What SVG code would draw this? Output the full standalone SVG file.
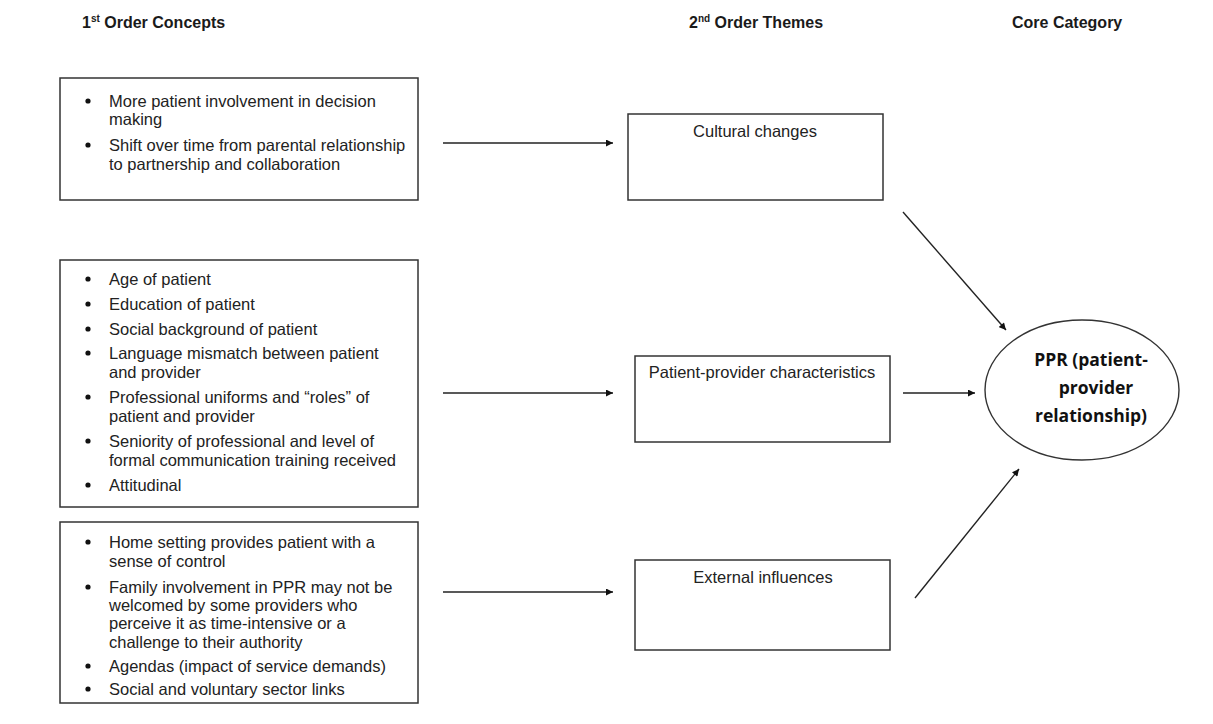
<svg xmlns="http://www.w3.org/2000/svg" width="1213" height="724" viewBox="0 0 1213 724">
<style>
.hdr{font-family:"Liberation Sans",Arial,sans-serif;font-weight:bold;font-size:16px;fill:#1a1a1a}
.sup{font-size:10px}
.txt{font-family:"Liberation Sans",Arial,sans-serif;font-size:16.5px;fill:#222}
.box{fill:#fff;stroke:#333;stroke-width:1.5}
.bul{fill:#111}
.mid{text-anchor:middle}
.core{font-family:"Open Sans","DejaVu Sans",sans-serif;font-weight:bold;font-size:17.5px;fill:#111;text-anchor:middle}
.con{stroke:#222;stroke-width:1.4;fill:none;marker-end:url(#ah)}
</style>
<defs>
<marker id="ah" viewBox="0 0 10 10" refX="10" refY="5" markerWidth="8" markerHeight="7" markerUnits="userSpaceOnUse" orient="auto">
<path d="M0,0 L10,5 L0,10 z" fill="#111"/>
</marker>
</defs>
<rect width="1213" height="724" fill="#fff"/>
<g id="headers">
<text class="hdr" x="82" y="28">1<tspan class="sup" dy="-6">st</tspan><tspan dy="6"> Order Concepts</tspan></text>
<text class="hdr" x="689" y="28">2<tspan class="sup" dy="-6">nd</tspan><tspan dy="6"> Order Themes</tspan></text>
<text class="hdr" x="1012" y="28">Core Category</text>
</g>
<g id="concepts1">
<rect class="box" x="60" y="78" width="358" height="122"/>
<circle class="bul" cx="88" cy="101" r="2.6"/>
<text class="txt" x="109" y="107">More patient involvement in decision</text>
<text class="txt" x="109" y="125">making</text>
<circle class="bul" cx="88" cy="145" r="2.6"/>
<text class="txt" x="109" y="151">Shift over time from parental relationship</text>
<text class="txt" x="109" y="170">to partnership and collaboration</text>
</g>
<g id="concepts2">
<rect class="box" x="60" y="260" width="358" height="247"/>
<circle class="bul" cx="88" cy="279" r="2.6"/>
<text class="txt" x="109" y="285">Age of patient</text>
<circle class="bul" cx="88" cy="304" r="2.6"/>
<text class="txt" x="109" y="310">Education of patient</text>
<circle class="bul" cx="88" cy="329" r="2.6"/>
<text class="txt" x="109" y="335">Social background of patient</text>
<circle class="bul" cx="88" cy="353" r="2.6"/>
<text class="txt" x="109" y="359">Language mismatch between patient</text>
<text class="txt" x="109" y="378">and provider</text>
<circle class="bul" cx="88" cy="397" r="2.6"/>
<text class="txt" x="109" y="403">Professional uniforms and “roles” of</text>
<text class="txt" x="109" y="422">patient and provider</text>
<circle class="bul" cx="88" cy="441" r="2.6"/>
<text class="txt" x="109" y="447">Seniority of professional and level of</text>
<text class="txt" x="109" y="466">formal communication training received</text>
<circle class="bul" cx="88" cy="485" r="2.6"/>
<text class="txt" x="109" y="491">Attitudinal</text>
</g>
<g id="concepts3">
<rect class="box" x="60" y="522" width="358" height="181"/>
<circle class="bul" cx="88" cy="542" r="2.6"/>
<text class="txt" x="109" y="548">Home setting provides patient with a</text>
<text class="txt" x="109" y="567">sense of control</text>
<circle class="bul" cx="88" cy="587" r="2.6"/>
<text class="txt" x="109" y="593">Family involvement in PPR may not be</text>
<text class="txt" x="109" y="611">welcomed by some providers who</text>
<text class="txt" x="109" y="629">perceive it as time-intensive or a</text>
<text class="txt" x="109" y="648">challenge to their authority</text>
<circle class="bul" cx="88" cy="666" r="2.6"/>
<text class="txt" x="109" y="672">Agendas (impact of service demands)</text>
<circle class="bul" cx="88" cy="689" r="2.6"/>
<text class="txt" x="109" y="695">Social and voluntary sector links</text>
</g>
<g id="theme-cultural">
<rect class="box" x="628" y="114" width="255" height="86"/>
<text class="txt mid" x="755" y="137">Cultural changes</text>
</g>
<g id="theme-patient-provider">
<rect class="box" x="635" y="356" width="255" height="86"/>
<text class="txt mid" x="762" y="378">Patient-provider characteristics</text>
</g>
<g id="theme-external">
<rect class="box" x="635" y="560" width="255" height="90"/>
<text class="txt mid" x="763" y="583">External influences</text>
</g>
<g id="core-ppr">
<ellipse cx="1082" cy="390" rx="97" ry="70" fill="#fff" stroke="#333" stroke-width="1.4"/>
<text class="core" x="1091" y="366">PPR (patient-</text>
<text class="core" x="1096" y="394">provider</text>
<text class="core" x="1091" y="422">relationship)</text>
</g>
<g id="connectors">
<line class="con" x1="903" y1="212" x2="1006" y2="330"/>
<line class="con" x1="443" y1="143" x2="613" y2="143"/>
<line class="con" x1="443" y1="393" x2="613" y2="393"/>
<line class="con" x1="443" y1="592" x2="613" y2="592"/>
<line class="con" x1="903" y1="393" x2="975" y2="393"/>
<line class="con" x1="915" y1="598" x2="1019" y2="469"/>
</g>
</svg>
